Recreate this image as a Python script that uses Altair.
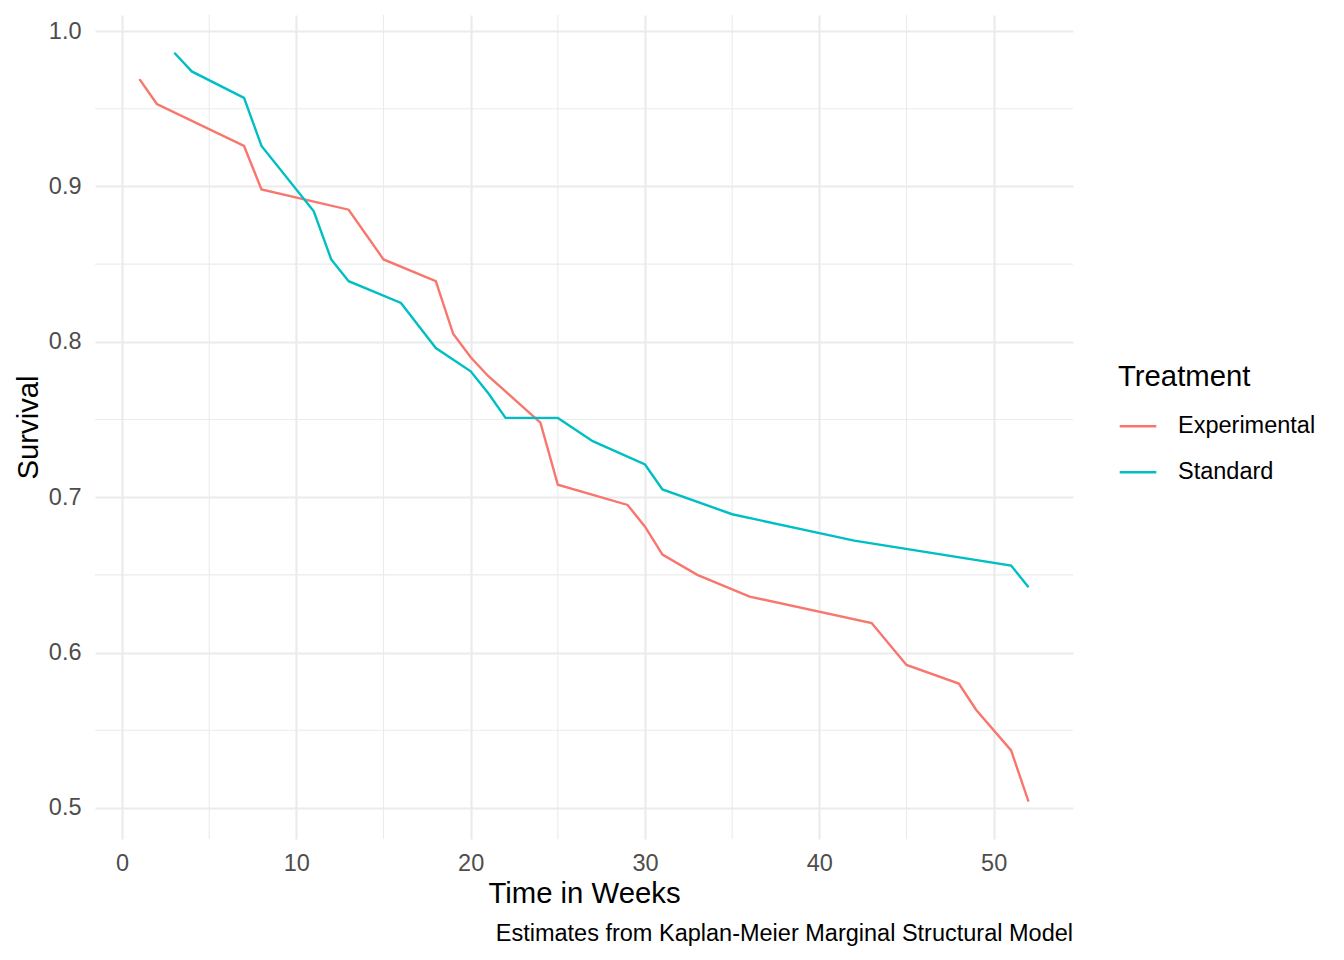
import altair as alt
import pandas as pd

# Kaplan-Meier MSM survival estimates
exp_weeks = [1, 2, 7, 8, 13, 15, 18, 19, 20, 21, 24, 25, 29, 30, 31, 33, 36, 43, 45, 48, 49, 51, 52]
exp_surv = [0.969, 0.953, 0.926, 0.898, 0.885, 0.853, 0.839, 0.805, 0.790, 0.778, 0.748, 0.708,
            0.695, 0.681, 0.663, 0.650, 0.636, 0.619, 0.592, 0.580, 0.563, 0.537, 0.504]

std_weeks = [3, 4, 7, 8, 11, 12, 13, 16, 18, 20, 21, 22, 25, 27, 30, 31, 35, 42, 51, 52]
std_surv = [0.986, 0.974, 0.957, 0.926, 0.884, 0.853, 0.839, 0.825, 0.796, 0.781, 0.767, 0.751,
            0.751, 0.736, 0.721, 0.705, 0.689, 0.672, 0.656, 0.642]

groups = ["Experimental", "Standard"]
colors = ["#F8766D", "#00BFC4"]

x_major = [0, 10, 20, 30, 40, 50]
x_minor = [5, 15, 25, 35, 45]
y_major = [0.5, 0.6, 0.7, 0.8, 0.9, 1.0]
y_minor = [0.55, 0.65, 0.75, 0.85, 0.95]

df = pd.concat([
    pd.DataFrame({"Week": exp_weeks, "Survival": exp_surv, "Treatment": groups[0]}),
    pd.DataFrame({"Week": std_weeks, "Survival": std_surv, "Treatment": groups[1]}),
])

FONT = "Liberation Sans"
GRID = "#EBEBEB"

x_scale = alt.Scale(domain=[-1.55, 54.55], nice=False, zero=False)
y_scale = alt.Scale(domain=[0.48, 1.0103], nice=False, zero=False)
x_axis = alt.Axis(values=x_major, labelPadding=12, titlePadding=5)
y_axis = alt.Axis(values=y_major, format=".1f", labelPadding=14, titlePadding=5)

x_enc = alt.X("Week:Q", scale=x_scale, title="Time in Weeks", axis=x_axis)
y_enc = alt.Y("Survival:Q", scale=y_scale, title="Survival", axis=y_axis)

# minor gridlines (ggplot draws them thinner than the major ones)
minor_x = alt.Chart(pd.DataFrame({"Week": x_minor})).mark_rule(
    color=GRID, strokeWidth=1.1
).encode(x=x_enc)

minor_y = alt.Chart(pd.DataFrame({"Survival": y_minor})).mark_rule(
    color=GRID, strokeWidth=1.1
).encode(y=y_enc)

lines = alt.Chart(df).mark_line(strokeWidth=2.4).encode(
    x=x_enc,
    y=y_enc,
    color=alt.Color(
        "Treatment:N",
        scale=alt.Scale(domain=groups, range=colors),
        legend=alt.Legend(
            orient="none", legendX=1023, legendY=348,
            symbolType="stroke", symbolSize=1340, symbolStrokeWidth=2.4,
            symbolFillColor="transparent",
            labelOffset=20, titlePadding=14, rowPadding=14, padding=0,
        ),
    ),
)

chart = alt.layer(minor_x, minor_y, lines).properties(
    width=978,
    height=824,
    autosize=alt.AutoSizeParams(type="none"),
    padding={"left": 87, "top": 7, "right": 260, "bottom": 110},
    title=alt.Title(
        "Estimates from Kaplan-Meier Marginal Structural Model",
        orient="bottom", anchor="end", frame="group", fontSize=23.5, fontWeight="normal",
        font=FONT, color="black", offset=13,
    ),
).configure_view(
    stroke=None
).configure_axis(
    domain=False, ticks=False, tickSize=0,
    grid=True, gridColor=GRID, gridWidth=2.2,
    labelFont=FONT, labelFontSize=23.5, labelColor="#4D4D4D",
    titleFont=FONT, titleFontSize=29.3, titleFontWeight="normal", titleColor="black",
).configure_legend(
    titleFont=FONT, titleFontSize=29.3, titleFontWeight="normal", titleColor="black",
    labelFont=FONT, labelFontSize=23.5, labelColor="black",
)

chart.save("out.html", embed_options={"renderer": "svg", "actions": False})
